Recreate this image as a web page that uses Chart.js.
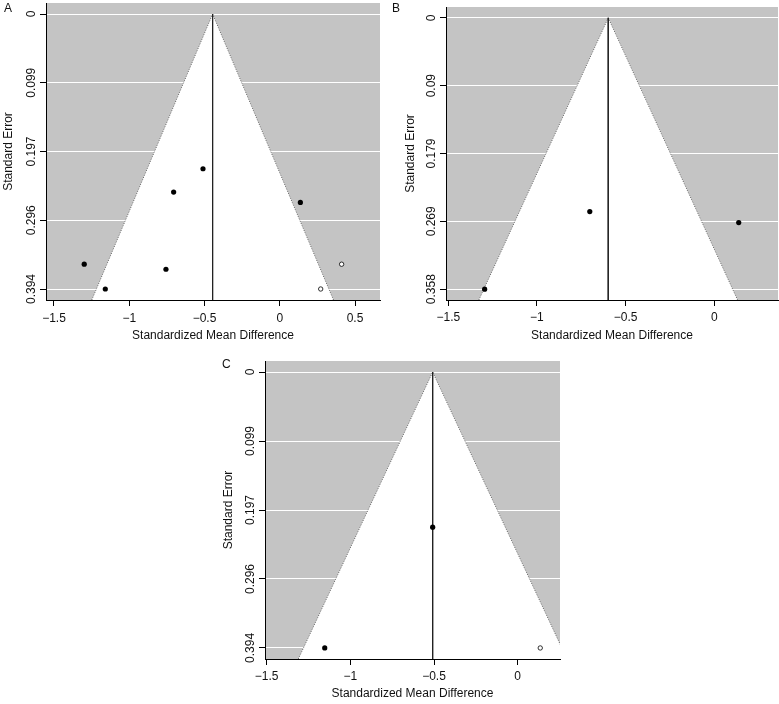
<!DOCTYPE html>
<html>
<head>
<meta charset="utf-8">
<script src="https://cdn.jsdelivr.net/npm/chart.js@4/dist/chart.umd.min.js"></script>
<style>
  html, body { margin: 0; padding: 0; background: #fff; }
  #page { position: relative; width: 779px; height: 704px; overflow: hidden; }
  .panel { position: absolute; }
  .letter { position: absolute; font: 12px/1 "Liberation Sans", Arial, sans-serif; color: #111; }
</style>
</head>
<body>
<div id="page">
  <div class="panel" style="left:0;top:0;width:390px;height:350px"><canvas id="chartA" width="390" height="350"></canvas></div>
  <div class="panel" style="left:390px;top:0;width:389px;height:350px"><canvas id="chartB" width="389" height="350"></canvas></div>
  <div class="panel" style="left:210px;top:355px;width:360px;height:349px"><canvas id="chartC" width="360" height="349"></canvas></div>
  <div class="letter" style="left:4px;top:2px">A</div>
  <div class="letter" style="left:392px;top:2px">B</div>
  <div class="letter" style="left:222px;top:358px">C</div>
</div>

<script>
// ─── Data ────────────────────────────────────────────────────
// Panel A : all studies
const aStudyX   = [-0.510, -0.705, 0.137, -1.299, -0.756, -1.159];
const aStudySE  = [0.2217, 0.2551, 0.270, 0.3585, 0.3657, 0.394];
const aFilledX  = [0.411, 0.272];
const aFilledSE = [0.3585, 0.394];
const aEstimate = -0.446;
const aYTicks      = [0, 0.0985, 0.197, 0.2955, 0.394];
const aYTickLabels = ["0", "0.099", "0.197", "0.296", "0.394"];
const aXTicks      = [-1.5, -1, -0.5, 0, 0.5];
const aXTickLabels = ["\u22121.5", "\u22121", "\u22120.5", "0", "0.5"];

// Panel B
const bStudyX   = [-0.702, 0.138, -1.295];
const bStudySE  = [0.2557, 0.2702, 0.358];
const bFilledX  = [];
const bFilledSE = [];
const bEstimate = -0.598;
const bYTicks      = [0, 0.0895, 0.179, 0.2685, 0.358];
const bYTickLabels = ["0", "0.09", "0.179", "0.269", "0.358"];
const bXTicks      = [-1.5, -1, -0.5, 0];
const bXTickLabels = ["\u22121.5", "\u22121", "\u22120.5", "0"];

// Panel C
const cStudyX   = [-0.508, -1.153];
const cStudySE  = [0.2215, 0.394];
const cFilledX  = [0.135];
const cFilledSE = [0.394];
const cEstimate = -0.508;
const cYTicks      = [0, 0.0985, 0.197, 0.2955, 0.394];
const cYTickLabels = ["0", "0.099", "0.197", "0.296", "0.394"];
const cXTicks      = [-1.5, -1, -0.5, 0];
const cXTickLabels = ["\u22121.5", "\u22121", "\u22120.5", "0"];

const Z = 1.96;

// ─── Style ───────────────────────────────────────────────────
const FONT = "'Liberation Sans', Arial, Helvetica, sans-serif";
const BACK = "#c4c4c4";
const INK = "#111";

// gray background + rotated y tick labels (R style)
const funnelDecor = {
  id: "funnelDecor",
  beforeDraw(chart) {
    const { ctx, chartArea: a } = chart;
    ctx.save();
    ctx.fillStyle = BACK;
    ctx.fillRect(a.left, a.top, a.right - a.left, a.bottom - a.top);
    ctx.restore();
  },
  afterDraw(chart, args, opts) {
    const { ctx } = chart;
    const y = chart.scales.y;
    ctx.save();
    ctx.fillStyle = INK;
    ctx.font = `12px ${FONT}`;
    ctx.textAlign = "center";
    ctx.textBaseline = "alphabetic";
    y.ticks.forEach((t, i) => {
      const py = y.getPixelForValue(t.value);
      ctx.save();
      ctx.translate(y.right - 11, py);
      ctx.rotate(-Math.PI / 2);
      ctx.fillText(opts.labels[i], 0, 0);
      ctx.restore();
    });
    ctx.restore();
  }
};

function pts(xs, ys) {
  return xs.map((x, i) => ({ x, y: ys[i] }));
}

// ─── Funnel chart ────────────────────────────────────────────
function makeFunnel(id, d, L) {
  const seMax = d.yTicks[d.yTicks.length - 1];
  const yMin = -0.04 * seMax;
  const yMax = 1.04 * seMax;

  const funnel = [
    { x: d.est - Z * yMax, y: yMax },
    { x: d.est, y: 0 },
    { x: d.est + Z * yMax, y: yMax },
  ];
  const vline = [{ x: d.est, y: 0 }, { x: d.est, y: yMax }];

  return new Chart(document.getElementById(id), {
    type: "scatter",
    data: {
      datasets: [
        {
          data: pts(d.studyX, d.studySE), order: 0,
          pointRadius: 2.6, backgroundColor: "#000", borderWidth: 0,
        },
        {
          data: pts(d.filledX, d.filledSE), order: 1,
          pointRadius: 2.2, backgroundColor: "#fff", borderColor: "#000", borderWidth: 0.8,
        },
        {
          type: "line", data: vline, order: 2,
          borderColor: "#222", borderWidth: 1, pointRadius: 0, fill: false,
        },
        {
          type: "line", data: funnel, order: 3,
          borderColor: "#666", borderWidth: 1, borderDash: [1, 1.5],
          pointRadius: 0, tension: 0,
          backgroundColor: "#fff", fill: { target: { value: yMax } },
        },
      ]
    },
    options: {
      responsive: false,
      animation: false,
      events: [],
      devicePixelRatio: 1,
      layout: { autoPadding: false, padding: { left: 0, top: L.top, right: L.right, bottom: 0 } },
      plugins: {
        legend: { display: false },
        tooltip: { enabled: false },
        funnelDecor: { labels: d.yLabels },
      },
      scales: {
        x: {
          type: "linear", min: d.xRange[0], max: d.xRange[1],
          afterBuildTicks: s => { s.ticks = d.xTicks.map(v => ({ value: v })); },
          afterFit: s => { s.height = L.xH; },
          grid: { drawOnChartArea: false, tickColor: "#000", tickLength: 6 },
          border: { display: true, color: "#000", width: 1 },
          ticks: {
            color: INK, padding: L.xPad, maxRotation: 0,
            font: { family: FONT, size: 12 },
            callback: (v, i) => d.xLabels[i],
          },
          title: {
            display: true, text: "Standardized Mean Difference", color: INK,
            font: { family: FONT, size: 12 }, padding: { top: 0, bottom: L.xTitlePad },
          },
        },
        y: {
          type: "linear", reverse: true, min: yMin, max: yMax,
          afterBuildTicks: s => { s.ticks = d.yTicks.map(v => ({ value: v })); },
          afterFit: s => { s.width = L.yW; },
          grid: { color: "#fff", lineWidth: 1, tickColor: "#000", tickLength: 6 },
          border: { display: true, color: "#000", width: 1 },
          ticks: { display: false },
          title: {
            display: true, text: "Standard Error", color: INK,
            font: { family: FONT, size: 12 }, padding: { top: L.yTitlePad, bottom: 0 },
          },
        }
      }
    },
    plugins: [funnelDecor]
  });
}

makeFunnel("chartA", {
  studyX: aStudyX, studySE: aStudySE, filledX: aFilledX, filledSE: aFilledSE, est: aEstimate,
  yTicks: aYTicks, yLabels: aYTickLabels, xTicks: aXTicks, xLabels: aXTickLabels,
  xRange: [-1.553, 0.666],
}, { top: 3, right: 10, yW: 46, xH: 50, xPad: 5, xTitlePad: 7, yTitlePad: 1.5 });

makeFunnel("chartB", {
  studyX: bStudyX, studySE: bStudySE, filledX: bFilledX, filledSE: bFilledSE, est: bEstimate,
  yTicks: bYTicks, yLabels: bYTickLabels, xTicks: bXTicks, xLabels: bXTickLabels,
  xRange: [-1.513, 0.3595],
}, { top: 7, right: 1, yW: 56, xH: 50, xPad: 4, xTitlePad: 7, yTitlePad: 13.5 });

makeFunnel("chartC", {
  studyX: cStudyX, studySE: cStudySE, filledX: cFilledX, filledSE: cFilledSE, est: cEstimate,
  yTicks: cYTicks, yLabels: cYTickLabels, xTicks: cXTicks, xLabels: cXTickLabels,
  xRange: [-1.510, 0.253],
}, { top: 6, right: 10, yW: 55, xH: 45, xPad: 4, xTitlePad: 3, yTitlePad: 11.5 });
</script>
</body>
</html>
